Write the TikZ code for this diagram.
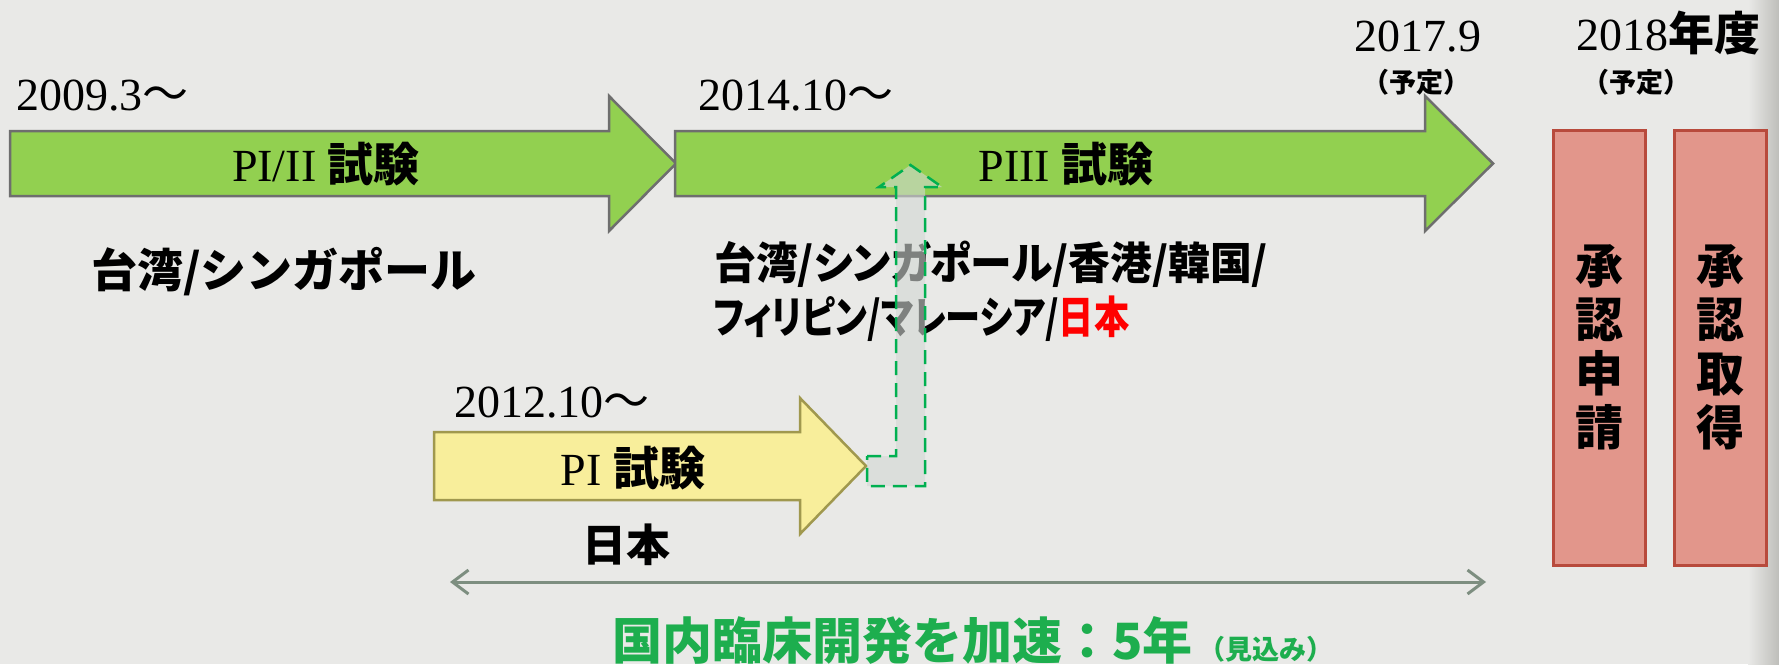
\documentclass[tikz,border=0pt]{standalone}
\usepackage{fontspec}
\setmainfont{Liberation Serif}
\newfontfamily\jp{Noto Sans CJK JP}
\newfontfamily\jpp{Noto Sans CJK JP}[RawFeature=+palt]
\usetikzlibrary{arrows.meta}
\definecolor{bgc}{HTML}{E9E9E7}
\definecolor{edgec}{HTML}{BEBEBA}
\definecolor{arrgreen}{HTML}{92D050}
\definecolor{arrgreenline}{HTML}{6E6E6E}
\definecolor{arryellow}{HTML}{F8EE9B}
\definecolor{arryellowline}{HTML}{A0984E}
\definecolor{bentfill}{HTML}{D2D8D4}
\definecolor{dashgreen}{HTML}{00B050}
\definecolor{redfill}{HTML}{E2968B}
\definecolor{redline}{HTML}{B84A3C}
\definecolor{spanline}{HTML}{7D8E80}
\definecolor{txtgreen}{HTML}{1DAE4E}
\tikzset{
  bigarrow/.style={fill=arrgreen, draw=arrgreenline, line width=2.5pt, line join=miter},
  yelarrow/.style={fill=arryellow, draw=arryellowline, line width=2.5pt, line join=miter},
  bentarrow/.style={fill=bentfill, fill opacity=0.6, draw=dashgreen, line width=2.5pt, dash pattern=on 14pt off 8pt},
  datetxt/.style={font=\fontsize{46}{50}\selectfont, inner sep=0pt},
  phasetxt/.style={font=\fontsize{46}{50}\selectfont, inner sep=0pt},
  jptxt/.style={font=\fontsize{44}{50}\jpp\bfseries\selectfont, inner sep=0pt},
  smalltxt/.style={font=\fontsize{27}{30}\jp\bfseries\selectfont, inner sep=0pt},
  redbox/.style={fill=redfill, draw=redline, line width=3pt, minimum width=92pt, minimum height=435pt,
    inner sep=0pt, align=center, font=\fontsize{48}{54}\jp\bfseries\selectfont},
  spanarrow/.style={draw=spanline, line width=3pt, {Straight Barb[length=16pt,width=24pt]}-{Straight Barb[length=16pt,width=24pt]}},
}
\begin{document}
\begin{tikzpicture}[x=1pt,y=-1pt]
\useasboundingbox (0,0) rectangle (1779,664);
\fill[bgc] (0,0) rectangle (1779,664);
\shade[left color=bgc, right color=edgec, shading angle=90] (1748,0) rectangle (1779,664);

% green arrows
\draw[bigarrow] (10,131) -- (609,131) -- (609,96) -- (676,163.5) -- (609,231) -- (609,196) -- (10,196) -- cycle;
\draw[bigarrow] (675,131) -- (1425,131) -- (1425,96) -- (1493,163.5) -- (1425,231) -- (1425,196) -- (675,196) -- cycle;
% yellow arrow
\draw[yelarrow] (434,432) -- (800,432) -- (800,398) -- (866,466) -- (800,534) -- (800,500) -- (434,500) -- cycle;

% dates
\node[datetxt, anchor=base west] (d1) at (16,110) {2009.3{\jp ～}};
\node[datetxt, anchor=base west] (d2) at (698,110) {2014.10{\jp ～}};
\node[datetxt, anchor=base west] (d3) at (454,417) {2012.10{\jp ～}};
\node[datetxt, anchor=base] (d4) at (1418,51) {2017.9};
\node[smalltxt] (d4s) at (1416,82) {（予定）};
\node[datetxt, anchor=base] (d5) at (1668,50) {2018{\jp\bfseries 年度}};
\node[smalltxt] (d5s) at (1636,82) {（予定）};

% phase labels
\node[phasetxt] (p1) at (326,164) {PI/II {\jp\bfseries 試験}};
\node[phasetxt] (p2) at (1066,164) {PIII {\jp\bfseries 試験}};
\node[phasetxt] (p3) at (633,468) {PI {\jp\bfseries 試験}};

% countries
\node[jptxt, font=\fontsize{46}{50}\jp\bfseries\selectfont] (c1) at (284,272) {台湾/シンガポール};
\node[jptxt, anchor=west] (c2) at (714,264) {\scalebox{0.95}[1]{台湾/シンガポール/香港/韓国/}};
\node[jptxt, anchor=west] (c3) at (713,319) {\scalebox{0.8}[1]{フィリピン/マレーシア/\textcolor{red}{日本}}};
\node[jptxt] (c4) at (626,545) {日本};

% bent arrow
\draw[bentarrow] (867,456) -- (896,456) -- (896,187) -- (879,187) -- (910.5,165) -- (942,187) -- (925,187) -- (925,486) -- (867,486) -- cycle;

% approval boxes
\node[redbox] (b1) at (1599,347.5) {承\\認\\申\\請};
\node[redbox] (b2) at (1720,347.5) {承\\認\\取\\得};

% span arrow
\coordinate (s1) at (450,582);
\coordinate (s2) at (1486,582);
\draw[spanarrow] (s1) -- (s2);

\node[inner sep=0pt, text=txtgreen] (g) at (973,640) {{\fontsize{50}{54}\jp\bfseries\selectfont 国内臨床開発を加速：5年}\hspace{6pt}{\fontsize{27}{30}\jp\bfseries\selectfont （見込み）}};
\end{tikzpicture}
\end{document}
